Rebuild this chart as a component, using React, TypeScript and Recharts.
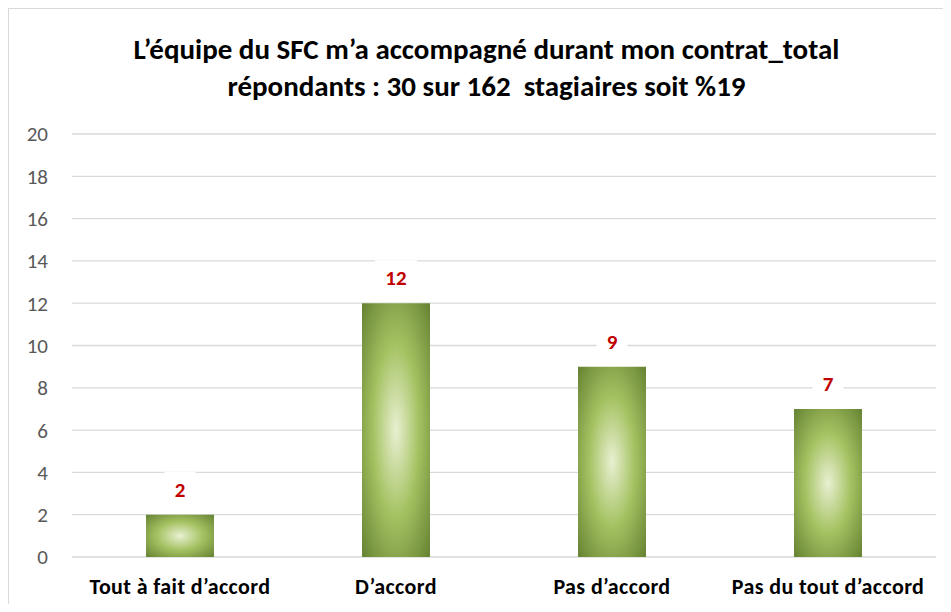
import React from "react";
import { BarChart, Bar, XAxis, YAxis, CartesianGrid, LabelList } from "recharts";

const categories = ["Tout à fait d’accord", "D’accord", "Pas d’accord", "Pas du tout d’accord"];
const values = [2, 12, 9, 7];
const yTicks = [0, 2, 4, 6, 8, 10, 12, 14, 16, 18, 20];
const titleLines = [
  "L’équipe du SFC m’a accompagné durant mon contrat_total",
  "répondants : 30 sur 162  stagiaires soit %19",
];

const data = categories.map((c, i) => ({ name: c, value: values[i] }));

const FONT = "Carlito, 'Liberation Sans Narrow', 'Open Sans', sans-serif";

const ValueLabel = (props: any) => {
  const { x, y, width, value } = props;
  const cx = Number(x) + Number(width) / 2;
  const cy = Number(y) - 25;
  const txt = String(value);
  const w = txt.length * 11 + 20;
  return (
    <g>
      <rect x={cx - w / 2} y={cy - 18} width={w} height={36} fill="#ffffff" />
      <text
        x={cx}
        y={cy}
        textAnchor="middle"
        dominantBaseline="central"
        fill="#c00000"
        fontWeight="bold"
        fontSize={21}
        fontFamily={FONT}
      >
        {txt}
      </text>
    </g>
  );
};

export default function App() {
  return (
    <div
      style={{
        position: "relative",
        width: 943,
        height: 596,
        boxSizing: "border-box",
        borderLeft: "1px solid #d9d9d9",
        borderTop: "1px solid #d9d9d9",
        background: "#ffffff",
        fontFamily: FONT,
      }}
    >
      <div
        style={{
          position: "absolute",
          left: 0,
          top: 22,
          width: 955,
          textAlign: "center",
          fontWeight: "bold",
          fontSize: 29,
          lineHeight: "37px",
          color: "#000000",
          pointerEvents: "none",
        }}
      >
        {titleLines.map((l, i) => (
          <div key={i} style={{ whiteSpace: "pre" }}>{l}</div>
        ))}
      </div>
      <BarChart
        width={942}
        height={595}
        data={data}
        margin={{ top: 125, right: 15, bottom: 0, left: 0 }}
      >
        <defs>
          <radialGradient id="barGrad" cx="50%" cy="50%" r="75%" fx="50%" fy="50%">
            <stop offset="0%" stopColor="#e8f0d2" />
            <stop offset="45%" stopColor="#a5c262" />
            <stop offset="100%" stopColor="#5d7a2c" />
          </radialGradient>
        </defs>
        <CartesianGrid vertical={false} stroke="#d9d9d9" strokeWidth={1.3} />
        <XAxis
          dataKey="name"
          axisLine={false}
          tickLine={false}
          tickSize={0}
          tickMargin={21}
          height={47}
          interval={0}
          tick={{ fill: "#000000", fontSize: 22, fontWeight: "bold", fontFamily: FONT, letterSpacing: 0.4 }}
        />
        <YAxis
          domain={[0, 20]}
          ticks={yTicks}
          axisLine={false}
          tickLine={false}
          tickSize={0}
          tickMargin={24}
          width={63}
          interval={0}
          tick={{ fill: "#595959", fontSize: 21, fontFamily: FONT }}
        />
        <Bar dataKey="value" barSize={68} fill="url(#barGrad)" isAnimationActive={false}>
          <LabelList dataKey="value" content={ValueLabel} />
        </Bar>
      </BarChart>
    </div>
  );
}
